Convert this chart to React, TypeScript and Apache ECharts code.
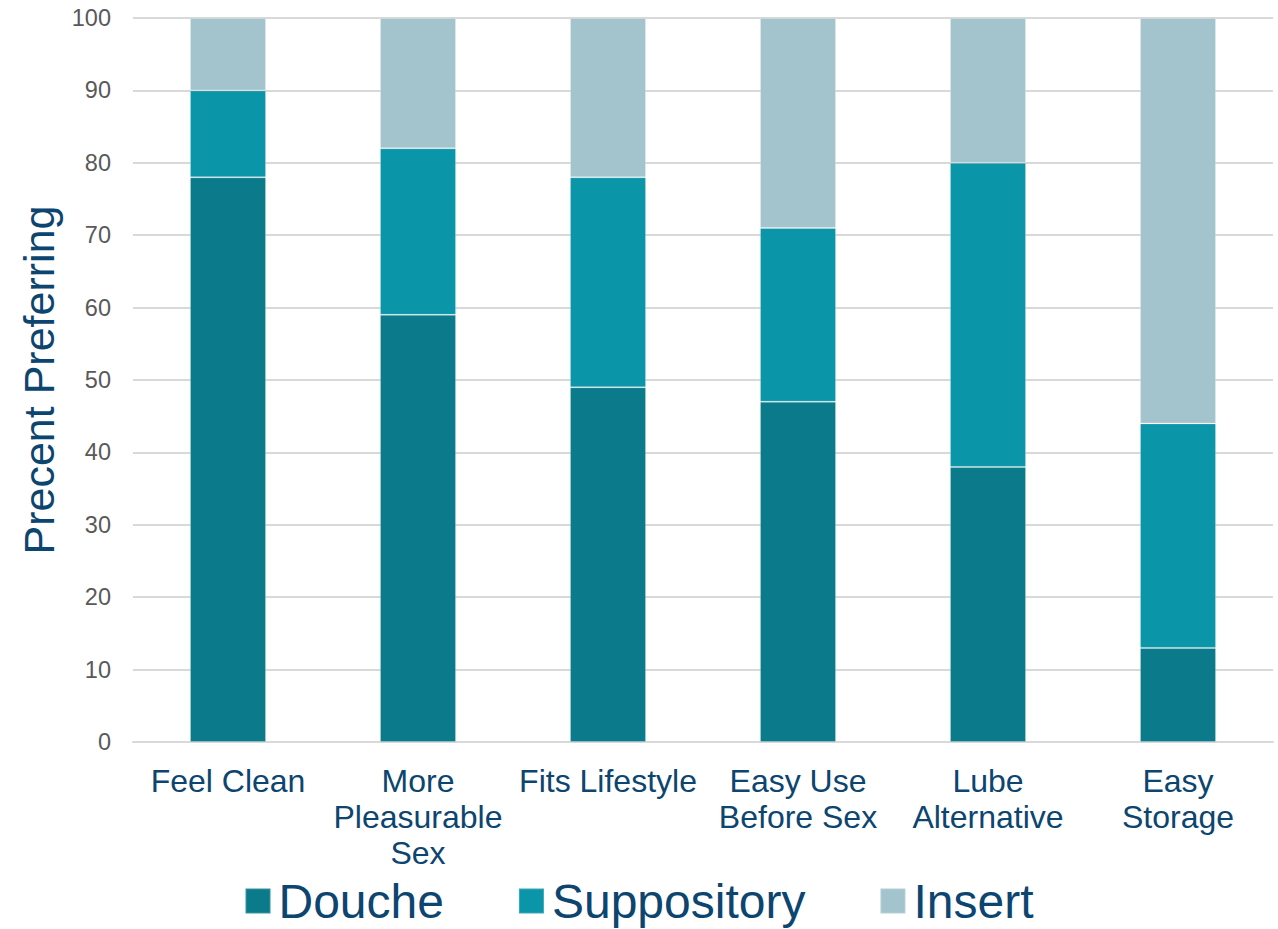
import React, { useEffect, useRef } from "react";
import * as echarts from "echarts";

const categories = [
  "Feel Clean",
  "More\nPleasurable\nSex",
  "Fits Lifestyle",
  "Easy Use\nBefore Sex",
  "Lube\nAlternative",
  "Easy\nStorage",
];
const douche = [78, 59, 49, 47, 38, 13];
const suppository = [12, 23, 29, 24, 42, 31];
const insert = [10, 18, 22, 29, 20, 56];
const seriesNames = ["Douche", "Suppository", "Insert"];
const colors = ["#0b7a8a", "#0b95a8", "#a3c4cd"];

export default function App() {
  const ref = useRef<HTMLDivElement>(null);
  useEffect(() => {
    const chart = echarts.init(ref.current!, undefined, { renderer: "svg" });
    const data = [douche, suppository, insert];
    chart.setOption({
      animation: false,
      textStyle: { fontFamily: "Liberation Sans, Arial, sans-serif" },
      grid: { left: 133, top: 18, right: 5, bottom: 187, containLabel: false },
      legend: {
        data: seriesNames,
        top: 877,
        left: "center",
        padding: 0,
        itemWidth: 25,
        itemHeight: 25,
        itemGap: 74,
        icon: "rect",
        textStyle: { fontSize: 48, lineHeight: 48, color: "#0c456f", padding: [0, 0, 0, 3] },
      },
      xAxis: {
        type: "category",
        data: categories,
        axisTick: { show: false },
        axisLine: { lineStyle: { color: "#d9d9d9", width: 2 } },
        axisLabel: {
          color: "#0c456f",
          fontSize: 32,
          lineHeight: 36,
          margin: 21,
          interval: 0,
        },
      },
      yAxis: {
        type: "value",
        min: 0,
        max: 100,
        interval: 10,
        name: "Precent Preferring",
        nameLocation: "middle",
        nameGap: 71,
        nameTextStyle: { fontSize: 43, color: "#0c456f" },
        axisLabel: { color: "#595959", fontSize: 23.5, margin: 22 },
        splitLine: { lineStyle: { color: "#d9d9d9", width: 2 } },
        axisLine: { show: false },
      },
      series: data.map((d, i) => ({
        name: seriesNames[i],
        type: "bar",
        stack: "total",
        data: d,
        barWidth: 76,
        itemStyle: { color: colors[i], borderColor: "rgba(255,255,255,0.2)", borderWidth: 1 },
      })),
    });
    return () => chart.dispose();
  }, []);
  return (
    <div
      ref={ref}
      style={{ position: "absolute", left: 0, top: 0, width: 1278, height: 929 }}
    />
  );
}
